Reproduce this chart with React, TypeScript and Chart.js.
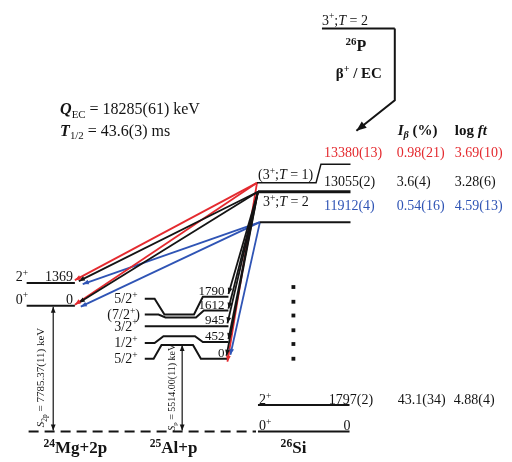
import React, { useEffect, useRef } from "react";
import { Chart, registerables } from "chart.js";

Chart.register(...registerables);

type P = [number, number];

const FONT = '"Liberation Serif", "Times New Roman", serif';
const RED = "#e42a2f";
const BLUE = "#2f54b5";
const BLK = "#141414";

// ---------- values ----------
const SI_ENERGY = ["13380(13)", "13055(2)", "11912(4)"];
const SI_IBETA = ["0.98(21)", "3.6(4)", "0.54(16)"];
const SI_LOGFT = ["3.69(10)", "3.28(6)", "4.59(13)"];
const SI_COLORS = [RED, BLK, BLUE];
const SI_ROW_Y = [156, 185, 210];
const SI_LOW_ENERGY = ["1797(2)", "0"];
const SI_LOW_SPIN = ["2^{+}", "0^{+}"];
const SI_LOW_IBETA = ["43.1(34)"];
const SI_LOW_LOGFT = ["4.88(4)"];
const AL_ENERGY = ["1790", "1612", "945", "452", "0"];
const AL_SPIN = ["5/2^{+}", "(7/2^{+})", "3/2^{+}", "1/2^{+}", "5/2^{+}"];
const MG_ENERGY = ["1369", "0"];
const MG_SPIN = ["2^{+}", "0^{+}"];

// ---------- layout (data units of the diagram plane) ----------
const PARENT_LINE: P[] = [[323, 25], [397, 25]];
const BETA_PATH: P[] = [[397, 25], [397, 98], [358, 129]];

const SI_LINES: { pts: P[]; w: number }[] = [
  { pts: [[257, 182], [317, 182], [322, 163], [352, 163]], w: 1.5 },
  { pts: [[258, 191], [352, 191]], w: 3 },
  { pts: [[260, 222], [352, 222]], w: 2 },
  { pts: [[258, 408], [351, 408]], w: 2 },
  { pts: [[258, 435], [351, 435]], w: 2 },
];
const SI_LOW_Y = [408, 435];

const MG_LINES: P[][] = [
  [[23, 284], [72, 284]],
  [[23, 307], [72, 307]],
];

const AL_LINES: P[][] = [
  [[143, 300], [153, 300], [163, 316], [193, 316], [202, 298], [228, 298]],
  [[143, 316], [157, 316], [164, 319], [195, 319], [203, 312], [228, 312]],
  [[143, 328], [228, 328]],
  [[143, 345], [153, 345], [162, 338], [194, 338], [202, 344], [228, 344]],
  [[143, 361], [152, 361], [160, 347], [192, 347], [200, 361], [228, 361]],
];

const TRANSITIONS: { from: P; to: P; c: string }[] = [
  { from: [258, 191], to: [76, 282], c: BLK },
  { from: [258, 191], to: [76, 304], c: BLK },
  { from: [258, 191], to: [228, 295], c: BLK },
  { from: [258, 191], to: [228, 310], c: BLK },
  { from: [258, 191], to: [227, 325], c: BLK },
  { from: [258, 191], to: [228, 341], c: BLK },
  { from: [258, 191], to: [226, 358], c: BLK },
  { from: [257, 182], to: [72, 281], c: RED },
  { from: [257, 182], to: [72, 306], c: RED },
  { from: [257, 182], to: [227, 364], c: RED },
  { from: [260, 222], to: [80, 285], c: BLUE },
  { from: [260, 222], to: [78, 308], c: BLUE },
  { from: [260, 222], to: [230, 357], c: BLUE },
];

const SEP_ARROWS: P[][] = [
  [[50, 308], [50, 434]],
  [[181, 347], [181, 434]],
];
const DASHED: P[] = [[25, 435], [256, 435]];
const DOTS: P[] = [[294, 288], [294, 303], [294, 317], [294, 332], [294, 346], [294, 361]];

type Label = {
  s: string;
  x: number;
  y: number;
  size: number;
  color?: string;
  align?: "left" | "right" | "center";
  b?: boolean;
  rot?: number;
};

const LABELS: Label[] = [
  { s: "3^{+};|T| = 2", x: 323, y: 21, size: 14 },
  { s: "^{26}P", x: 347, y: 48, size: 16, b: true },
  { s: "β^{+} / EC", x: 337, y: 75, size: 15, b: true },
  { s: "*|Q|*_{EC} = 18285(61) keV", x: 57, y: 112, size: 16 },
  { s: "*|T|*_{1/2} = 43.6(3) ms", x: 57, y: 134, size: 16 },
  { s: "|I_{β}| (%)", x: 400, y: 133, size: 15, b: true },
  { s: "log |ft|", x: 458, y: 133, size: 15, b: true },
  { s: "(3^{+};|T| = 1)", x: 258, y: 178, size: 14 },
  { s: "3^{+};|T| = 2", x: 263, y: 206, size: 14 },
  { s: "|S|_{2p} = 7785.37(11) keV", x: 41, y: 380, size: 11, align: "center", rot: -Math.PI / 2 },
  { s: "|S|_{p} = 5514.00(11) keV", x: 174, y: 390, size: 10, align: "center", rot: -Math.PI / 2 },
  { s: "^{24}Mg+2p", x: 40, y: 457, size: 17, b: true },
  { s: "^{25}Al+p", x: 148, y: 457, size: 17, b: true },
  { s: "^{26}Si", x: 281, y: 457, size: 17, b: true },
];

SI_ENERGY.forEach((e, i) => {
  const c = SI_COLORS[i];
  LABELS.push({ s: e, x: 325, y: SI_ROW_Y[i], size: 14, color: c });
  LABELS.push({ s: SI_IBETA[i], x: 399, y: SI_ROW_Y[i], size: 14, color: c });
  LABELS.push({ s: SI_LOGFT[i], x: 458, y: SI_ROW_Y[i], size: 14, color: c });
});
SI_LOW_ENERGY.forEach((e, i) => {
  const y = SI_LOW_Y[i];
  LABELS.push({ s: SI_LOW_SPIN[i], x: 259, y: y - 1, size: 14 });
  if (i === 0) {
    LABELS.push({ s: e, x: 330, y: y - 1, size: 14 });
    LABELS.push({ s: SI_LOW_IBETA[i], x: 400, y: y - 1, size: 14 });
    LABELS.push({ s: SI_LOW_LOGFT[i], x: 457, y: y - 1, size: 14 });
  } else {
    LABELS.push({ s: e, x: 352, y: y - 1, size: 14, align: "right" });
  }
});
MG_ENERGY.forEach((e, i) => {
  const y = MG_LINES[i][0][1];
  LABELS.push({ s: MG_SPIN[i], x: 12, y: y - 2, size: 14 });
  LABELS.push({ s: e, x: 70, y: y - 2, size: 14, align: "right" });
});
AL_ENERGY.forEach((e, i) => {
  const pts = AL_LINES[i];
  const yl = pts[0][1];
  const yr = pts[pts.length - 1][1];
  LABELS.push({ s: AL_SPIN[i], x: i === 1 ? 105 : 112, y: yl + 4.5, size: 14 });
  LABELS.push({ s: e, x: 224, y: yr - 2, size: 13, align: "right" });
});

type Seg = { t: string; i: boolean; b: boolean; sup?: boolean; sub?: boolean };

function parse(s: string, bold: boolean): Seg[] {
  const out: Seg[] = [];
  let ital = false;
  let b = bold;
  let buf = "";
  const flush = () => {
    if (buf) {
      out.push({ t: buf, i: ital, b });
      buf = "";
    }
  };
  let k = 0;
  while (k < s.length) {
    const c = s[k];
    if ((c === "^" || c === "_") && s[k + 1] === "{") {
      flush();
      const j = s.indexOf("}", k);
      out.push({ t: s.slice(k + 2, j), i: ital, b, sup: c === "^", sub: c === "_" });
      k = j + 1;
      continue;
    }
    if (c === "|") {
      flush();
      ital = !ital;
      k++;
      continue;
    }
    if (c === "*") {
      flush();
      b = !b;
      k++;
      continue;
    }
    buf += c;
    k++;
  }
  flush();
  return out;
}

function fontOf(sg: Seg, size: number) {
  const sz = sg.sup || sg.sub ? size * 0.68 : size;
  return `${sg.i ? "italic " : ""}${sg.b ? "bold " : ""}${sz.toFixed(1)}px ${FONT}`;
}

function drawHead(ctx: CanvasRenderingContext2D, fx: number, fy: number, tx: number, ty: number, len: number, hw: number, color: string) {
  const a = Math.atan2(ty - fy, tx - fx);
  ctx.save();
  ctx.fillStyle = color;
  ctx.beginPath();
  ctx.moveTo(tx, ty);
  ctx.lineTo(tx - len * Math.cos(a) + hw * Math.sin(a), ty - len * Math.sin(a) - hw * Math.cos(a));
  ctx.lineTo(tx - len * Math.cos(a) - hw * Math.sin(a), ty - len * Math.sin(a) + hw * Math.cos(a));
  ctx.closePath();
  ctx.fill();
  ctx.restore();
}

const pt = (p: P) => ({ x: p[0], y: p[1] });

export default function App() {
  const ref = useRef<HTMLCanvasElement | null>(null);

  useEffect(() => {
    if (!ref.current) return;
    const datasets: any[] = [];
    const line = (pts: P[], color: string, w: number, extra: any = {}) =>
      datasets.push({
        data: pts.map(pt),
        showLine: true,
        borderColor: color,
        backgroundColor: color,
        borderWidth: w,
        pointRadius: 0,
        fill: false,
        tension: 0,
        ...extra,
      });

    line(PARENT_LINE, BLK, 2);
    line(BETA_PATH, BLK, 2, { headEnd: 10 });
    SI_LINES.forEach((l) => line(l.pts, BLK, l.w));
    MG_LINES.forEach((l) => line(l, BLK, 2));
    AL_LINES.forEach((l) => line(l, BLK, 2));
    TRANSITIONS.forEach((t) => line([t.from, t.to], t.c, 1.8, { headEnd: 6 }));
    SEP_ARROWS.forEach((l) => line(l, BLK, 1.2, { headEnd: 6, headStart: 6 }));
    line(DASHED, BLK, 2, { borderDash: [10, 6] });
    datasets.push({
      data: DOTS.map(pt),
      showLine: false,
      pointStyle: "rect",
      pointRadius: 2.7,
      backgroundColor: BLK,
      borderWidth: 0,
    });

    const overlay = {
      id: "overlay",
      afterDatasetsDraw(chart: any) {
        const ctx: CanvasRenderingContext2D = chart.ctx;
        const xs = chart.scales.x;
        const ys = chart.scales.y;
        const px = (v: number) => xs.getPixelForValue(v);
        const py = (v: number) => ys.getPixelForValue(v);
        chart.data.datasets.forEach((d: any) => {
          const n = d.data.length;
          if (d.headEnd) {
            const a = d.data[n - 2], b = d.data[n - 1];
            drawHead(ctx, px(a.x), py(a.y), px(b.x), py(b.y), d.headEnd, d.headEnd * 0.4, d.borderColor);
          }
          if (d.headStart) {
            const a = d.data[1], b = d.data[0];
            drawHead(ctx, px(a.x), py(a.y), px(b.x), py(b.y), d.headStart, d.headStart * 0.4, d.borderColor);
          }
        });
        ctx.save();
        ctx.textBaseline = "alphabetic";
        LABELS.forEach((L) => {
          const segs = parse(L.s, !!L.b);
          let w = 0;
          const widths = segs.map((sg) => {
            ctx.font = fontOf(sg, L.size);
            const ww = ctx.measureText(sg.t).width;
            w += ww;
            return ww;
          });
          ctx.save();
          ctx.translate(px(L.x), py(L.y));
          if (L.rot) ctx.rotate(L.rot);
          let cx = L.align === "right" ? -w : L.align === "center" ? -w / 2 : 0;
          ctx.fillStyle = L.color || BLK;
          segs.forEach((sg, k) => {
            ctx.font = fontOf(sg, L.size);
            const dy = sg.sup ? -L.size * 0.38 : sg.sub ? L.size * 0.22 : 0;
            ctx.fillText(sg.t, cx, dy);
            cx += widths[k];
          });
          ctx.restore();
        });
        ctx.restore();
      },
    };

    const chart = new Chart(ref.current, {
      type: "scatter",
      data: { datasets },
      options: {
        responsive: false,
        maintainAspectRatio: false,
        animation: false,
        events: [],
        layout: { padding: 0 },
        scales: {
          x: { type: "linear", min: 0, max: 512, display: false },
          y: { type: "linear", min: 0, max: 462, reverse: true, display: false },
        },
        plugins: { legend: { display: false }, tooltip: { enabled: false } },
      },
      plugins: [overlay],
    } as any);
    return () => chart.destroy();
  }, []);

  return (
    <div style={{ position: "absolute", left: 0, top: 0, width: 512, height: 462, background: "#fff" }}>
      <canvas ref={ref} width={512} height={462} style={{ display: "block" }} />
    </div>
  );
}
